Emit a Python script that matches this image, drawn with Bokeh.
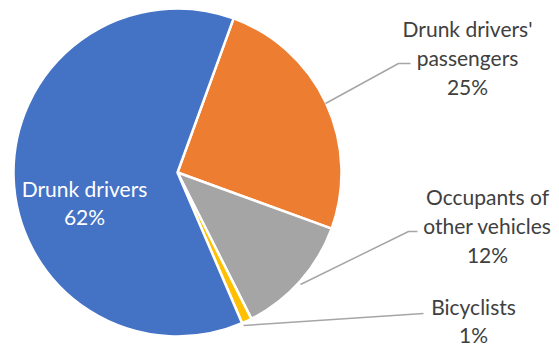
import math
from bokeh.plotting import figure
from bokeh.models import ColumnDataSource, Range1d
from bokeh.core.properties import value
from bokeh.embed import file_html
from bokeh.resources import INLINE

# ---- data ----
categories = ["Drunk drivers' passengers", "Occupants of other vehicles", "Bicyclists", "Drunk drivers"]
shares = [25, 12, 1, 62]
colors = ["#ED7D31", "#A5A5A5", "#FFC000", "#4472C4"]
label_texts = ["Drunk drivers'\npassengers\n25%", "Occupants of\nother vehicles\n12%", "Bicyclists\n1%", "Drunk drivers\n62%"]

# ---- layout (image pixel coords, y measured from top of window) ----
W, H = 559, 347
def Y(y_img):
    return H - y_img

cx, cy, R = 177, Y(172), 164
first_angle = 20.0  # degrees clockwise from 12 o'clock

total = float(sum(shares))
starts, ends = [], []
acc = 0.0
for s in shares:
    a0 = first_angle + 360.0 * acc / total
    acc += s
    a1 = first_angle + 360.0 * acc / total
    starts.append(math.radians(90 - a0))
    ends.append(math.radians(90 - a1))

src = ColumnDataSource(dict(cat=categories, start=starts, end=ends, color=colors))

p = figure(width=W, height=H, output_backend="svg", toolbar_location=None,
           x_range=Range1d(0, W), y_range=Range1d(0, H),
           x_axis_location=None, y_axis_location=None, min_border=0)
p.outline_line_color = None
p.grid.visible = False
p.background_fill_color = "white"
p.border_fill_color = "white"

p.wedge(x=cx, y=cy, radius=R, start_angle="start", end_angle="end", direction="clock",
        fill_color="color", line_color="white", line_width=2.5, source=src)

# leader lines
line_col = "#A6A6A6"
p.line([325, 398, 410], [Y(103), Y(63), Y(63)], line_color=line_col, line_width=1.5)
p.line([300, 408, 417], [Y(284), Y(231), Y(231)], line_color=line_col, line_width=1.5)
p.line([243, 423], [Y(325), Y(313)], line_color=line_col, line_width=1.5)

# labels
lab_x = [467, 487, 473, 84]
lab_y = [Y(57), Y(225), Y(320), Y(202)]
lab_col = ["#404040", "#404040", "#404040", "white"]
lsrc = ColumnDataSource(dict(x=lab_x, y=lab_y, t=label_texts, c=lab_col))
p.text(x="x", y="y", text="t", text_color="c", text_font=value("Lato"),
       text_font_size="21px", text_align="center", text_baseline="middle",
       text_line_height=1.15, source=lsrc)

open("out.html", "w").write(file_html(p, INLINE))
